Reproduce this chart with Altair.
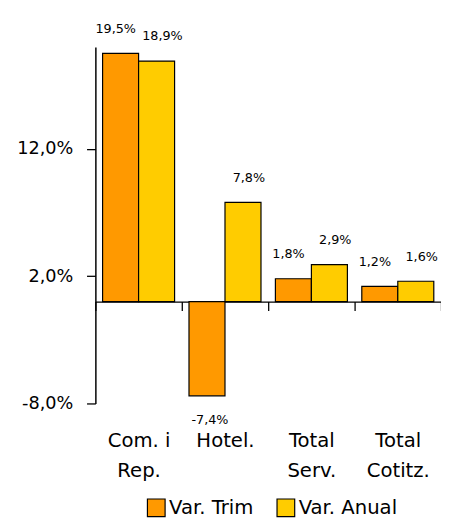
import altair as alt
import pandas as pd

categories = ["Com. i Rep.", "Hotel.", "Total Serv.", "Total Cotitz."]
series = ["Var. Trim", "Var. Anual"]
var_trim = [19.5, -7.4, 1.8, 1.2]
var_anual = [18.9, 7.8, 2.9, 1.6]
y_ticks = [-8, 2, 12]
colors = ["#FF9900", "#FFCC00"]

rows = []
for c, a, b in zip(categories, var_trim, var_anual):
    rows.append({"cat": c, "series": series[0], "value": a})
    rows.append({"cat": c, "series": series[1], "value": b})
df = pd.DataFrame(rows)

FONT = "DejaVu Sans"
H = 363
W = 352
ymin, ymax = -8, 20
zero_offset = -H * (0 - ymin) / (ymax - ymin)

PCT = "(datum.value < 0 ? '-' : '') + replace(format(abs(datum.value), '.1f'), '.', ',') + '%'"

x_enc = alt.X(
    "cat:N",
    sort=categories,
    scale=alt.Scale(paddingInner=0, paddingOuter=0),
    axis=alt.Axis(
        title=None,
        orient="bottom",
        offset=zero_offset,
        domainColor="black",
        domainWidth=1.3,
        tickColor="black",
        tickWidth=1.3,
        tickSize=9,
        tickBand="extent",
        labelAngle=0,
        labelFontSize=20,
        labelLineHeight=30,
        labelBaseline="top",
        labelColor="black",
        labelPadding=-zero_offset + 19,
        labelExpr="datum.label == 'Com. i Rep.' ? ['Com. i', 'Rep.'] : split(datum.label, ' ')",
        grid=False,
    ),
)
xoff = alt.XOffset("series:N", sort=series, scale=alt.Scale(paddingOuter=0.2, paddingInner=0))
y_enc = alt.Y(
    "value:Q",
    scale=alt.Scale(domain=[ymin, ymax], nice=False, zero=False),
    axis=alt.Axis(
        title=None,
        values=y_ticks,
        grid=False,
        domainColor="black",
        domainWidth=1.5,
        tickColor="black",
        tickWidth=1.3,
        tickSize=9,
        labelPadding=14,
        labelFontSize=18,
        labelColor="black",
        labelExpr=PCT,
    ),
)

base = alt.Chart(df).transform_calculate(lbl=PCT)

bars = base.mark_bar(stroke="black", strokeWidth=1.2).encode(
    x=x_enc,
    xOffset=xoff,
    y=y_enc,
    y2=alt.datum(0),
    color=alt.Color(
        "series:N",
        sort=series,
        scale=alt.Scale(domain=series, range=colors),
        legend=alt.Legend(
            title=None,
            orient="none",
            legendX=52,
            legendY=459,
            direction="horizontal",
            symbolType="square",
            symbolSize=324,
            symbolStrokeColor="black",
            symbolStrokeWidth=1.2,
            labelFontSize=20,
            labelColor="black",
            labelOffset=3,
            columnPadding=20,
        ),
    ),
)

def labels(filt, dx, dy):
    return base.transform_filter(filt).mark_text(
        fontSize=13, dx=dx, dy=dy, baseline="middle", color="black"
    ).encode(x=alt.X("cat:N", sort=categories), xOffset=xoff, y="value:Q", text="lbl:N")

txt_trim_pos = labels("datum.series == 'Var. Trim' && datum.value >= 0", -5, -25)
txt_trim_neg = labels("datum.series == 'Var. Trim' && datum.value < 0", 3, 25)
txt_anual = labels("datum.series == 'Var. Anual'", 6, -25)

chart = alt.layer(bars, txt_trim_pos, txt_trim_neg, txt_anual).properties(
    width=W,
    height=H,
    padding={"left": 89, "top": 35, "right": 0, "bottom": 118},
    autosize=alt.AutoSizeParams(type="none"),
).configure(font=FONT).configure_view(stroke=None)

chart.save("out.html", embed_options={"renderer": "svg", "actions": False})
